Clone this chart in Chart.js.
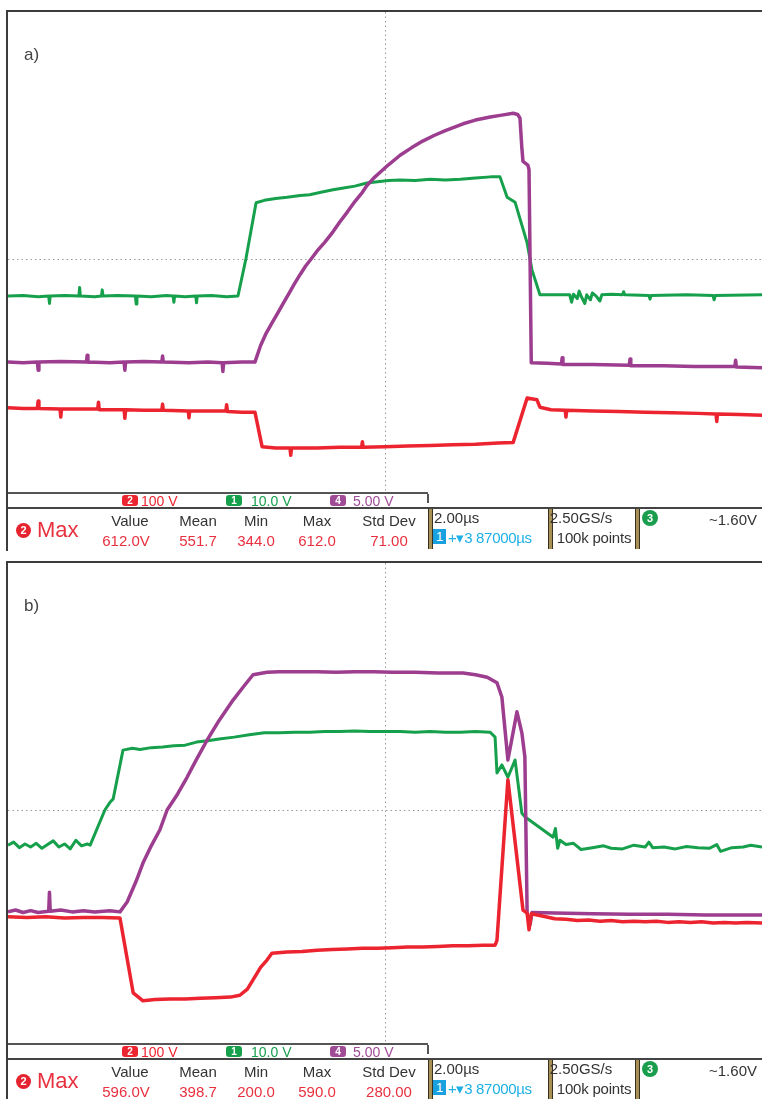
<!DOCTYPE html>
<html>
<head>
<meta charset="utf-8">
<script src="https://cdn.jsdelivr.net/npm/chart.js@4.4.0/dist/chart.umd.min.js"></script>
<style>
body{margin:0;background:#fff;width:762px;height:1099px;overflow:hidden;position:relative;font-family:"Liberation Sans",Arial,sans-serif;color:#333;}
.panel{position:absolute;left:0;width:762px;height:551px;}
.frame{position:absolute;left:6px;top:10px;width:800px;height:537px;border:2px solid #3c3c3c;border-right:none;}
.panel canvas{position:absolute;left:8px;top:12px;}
.tag{position:absolute;left:24px;top:45px;font-size:17px;color:#444;}
.legend{position:absolute;left:8px;top:492px;width:420px;height:15px;background:#fff;border-top:2px solid #555;overflow:hidden;}
.tick{position:absolute;left:427px;top:494px;width:2px;height:9px;background:#555;}
.meas{position:absolute;left:8px;top:507px;width:754px;height:42px;background:#fff;border-top:2px solid #444;}
.c{position:absolute;transform:translate(-50%,-50%);white-space:nowrap;font-size:15px;}
.l{position:absolute;transform:translate(0,-50%);white-space:nowrap;font-size:15px;}
.red{color:#e8303f;}
.sep{position:absolute;top:509px;width:3px;height:40px;background:#a88f55;border-left:1px solid #3a3020;border-right:1px solid #3a3020;}
.dot{position:absolute;border-radius:50%;color:#fff;font-weight:bold;font-size:11px;text-align:center;}
.badge{position:absolute;top:495px;height:11px;border-radius:3px;color:#fff;font-size:10px;line-height:11px;text-align:center;font-weight:bold;}
</style>
</head>
<body>
<script>
// time in µs (2 µs/div), amplitude in screen divisions
var aGreen = [[-10,-0.60],[-9.6,-0.59],[-9.2,-0.61],[-8.92,-0.60],[-8.9,-0.72],[-8.88,-0.60],[-8.5,-0.59],[-8.12,-0.60],[-8.1,-0.46],[-8.08,-0.60],[-7.7,-0.61],[-7.52,-0.60],[-7.5,-0.50],[-7.48,-0.60],[-7.1,-0.59],[-6.62,-0.60],[-6.6,-0.73],[-6.58,-0.60],[-6.2,-0.61],[-5.8,-0.59],[-5.62,-0.60],[-5.6,-0.70],[-5.58,-0.60],[-5.3,-0.61],[-5.02,-0.60],[-5.0,-0.71],[-4.98,-0.60],[-4.6,-0.59],[-4.2,-0.61],[-3.90,-0.60],
  [-3.69,0.00],[-3.42,0.91],[-3.2,0.95],[-2.9,0.98],[-2.6,1.00],[-2.25,1.03],[-2.0,1.04],[-1.7,1.08],[-1.38,1.12],[-1.1,1.15],[-0.8,1.18],[-0.48,1.23],[-0.2,1.25],[0.1,1.27],[0.4,1.28],[0.8,1.27],[1.2,1.29],[1.6,1.28],[2.0,1.29],[2.4,1.31],[2.8,1.33],[3.05,1.33],
  [3.24,1.00],[3.45,0.92],[3.77,0.26],[3.79,0.19],[3.90,-0.18],[4.11,-0.58],[4.9,-0.58],[4.95,-0.70],[5.0,-0.57],[5.1,-0.64],[5.15,-0.52],[5.2,-0.60],[5.3,-0.72],[5.35,-0.58],[5.45,-0.66],[5.5,-0.55],[5.6,-0.60],[5.7,-0.68],[5.75,-0.58],[6.0,-0.57],[6.3,-0.58],[6.33,-0.53],[6.36,-0.58],[7.0,-0.59],[7.03,-0.65],[7.06,-0.59],[8.0,-0.58],[8.7,-0.59],[8.73,-0.66],[8.76,-0.59],[10,-0.58]];
var aPurple = [[-10,-1.67],[-9.6,-1.68],[-9.22,-1.67],[-9.2,-1.80],[-9.18,-1.67],[-8.6,-1.66],[-7.92,-1.67],[-7.9,-1.56],[-7.88,-1.67],[-7.3,-1.68],[-6.92,-1.67],[-6.9,-1.80],[-6.88,-1.67],[-6.4,-1.66],[-5.92,-1.67],[-5.9,-1.57],[-5.88,-1.67],[-5.2,-1.68],[-4.7,-1.67],[-4.32,-1.68],[-4.3,-1.82],[-4.28,-1.68],[-3.8,-1.67],[-3.45,-1.67],
  [-3.3,-1.40],[-3.15,-1.20],[-3.0,-1.04],[-2.85,-0.88],[-2.7,-0.72],[-2.55,-0.56],[-2.4,-0.40],[-2.25,-0.25],[-2.1,-0.11],[-1.96,0.00],[-1.8,0.13],[-1.6,0.27],[-1.38,0.44],[-1.2,0.60],[-1.0,0.76],[-0.8,0.93],[-0.6,1.08],[-0.48,1.19],[-0.3,1.31],[-0.1,1.42],[0.1,1.53],[0.4,1.68],[0.7,1.80],[1.0,1.91],[1.3,2.00],[1.6,2.08],[2.07,2.19],[2.4,2.25],[2.79,2.30],[3.1,2.33],[3.40,2.36],[3.52,2.34],[3.58,2.28],[3.63,1.80],[3.66,1.58],[3.79,1.52],[3.82,1.45],
  [3.88,-1.68],[4.3,-1.69],[4.68,-1.70],[4.7,-1.60],[4.72,-1.71],[5.5,-1.71],[6.48,-1.72],[6.5,-1.62],[6.52,-1.73],[7.4,-1.73],[8.2,-1.74],[9.28,-1.74],[9.3,-1.64],[9.32,-1.75],[10,-1.76]];
var aRed = [[-10,-2.41],[-9.6,-2.42],[-9.22,-2.42],[-9.2,-2.30],[-9.18,-2.42],[-8.62,-2.43],[-8.6,-2.56],[-8.58,-2.43],[-8.1,-2.43],[-7.62,-2.43],[-7.6,-2.32],[-7.58,-2.44],[-6.92,-2.44],[-6.9,-2.58],[-6.88,-2.44],[-6.4,-2.45],[-5.92,-2.45],[-5.9,-2.35],[-5.88,-2.45],[-5.22,-2.46],[-5.2,-2.57],[-5.18,-2.46],[-4.6,-2.46],[-4.22,-2.46],[-4.2,-2.36],[-4.18,-2.47],[-3.8,-2.48],[-3.45,-2.48],
  [-3.26,-3.04],[-2.9,-3.06],[-2.52,-3.06],[-2.5,-3.18],[-2.48,-3.06],[-1.8,-3.06],[-1.2,-3.05],[-0.62,-3.05],[-0.6,-2.96],[-0.58,-3.05],[0.0,-3.04],[0.6,-3.03],[1.2,-3.02],[1.8,-3.01],[2.4,-3.00],[3.0,-2.98],[3.40,-2.97],
  [3.77,-2.25],[4.03,-2.28],[4.11,-2.40],[4.4,-2.44],[4.78,-2.45],[4.8,-2.56],[4.82,-2.45],[5.5,-2.46],[6.2,-2.47],[6.9,-2.48],[7.6,-2.49],[8.3,-2.50],[8.78,-2.51],[8.8,-2.63],[8.82,-2.51],[9.4,-2.52],[10,-2.53]];

var bGreen = [[-10,-0.57],[-9.85,-0.52],[-9.7,-0.61],[-9.55,-0.55],[-9.4,-0.60],[-9.25,-0.54],[-9.1,-0.62],[-8.95,-0.56],[-8.8,-0.50],[-8.65,-0.60],[-8.5,-0.55],[-8.35,-0.63],[-8.2,-0.49],[-8.05,-0.58],[-7.9,-0.55],[-7.82,-0.57],
  [-7.43,0.00],[-7.3,0.12],[-7.21,0.18],[-6.95,0.97],[-6.7,1.00],[-6.5,0.98],[-6.2,1.01],[-5.9,1.02],[-5.6,1.04],[-5.3,1.05],[-5.0,1.10],[-4.7,1.12],[-4.4,1.15],[-4.0,1.18],[-3.6,1.22],[-3.2,1.25],[-2.8,1.25],[-2.4,1.26],[-2.0,1.26],[-1.6,1.27],[-1.2,1.27],[-0.8,1.28],[-0.4,1.27],[0.0,1.27],[0.4,1.27],[0.8,1.26],[1.2,1.27],[1.6,1.26],[2.0,1.26],[2.4,1.27],[2.79,1.26],
  [2.92,1.18],[2.97,0.60],[3.10,0.73],[3.26,0.53],[3.45,0.81],[3.63,-0.05],[3.71,-0.11],[4.46,-0.44],[4.52,-0.30],[4.58,-0.62],[4.64,-0.49],[4.8,-0.56],[5.0,-0.54],[5.2,-0.64],[5.5,-0.61],[5.8,-0.58],[6.0,-0.62],[6.3,-0.63],[6.6,-0.57],[6.9,-0.60],[7.0,-0.52],[7.1,-0.61],[7.4,-0.60],[7.7,-0.63],[8.0,-0.59],[8.3,-0.61],[8.6,-0.62],[8.8,-0.56],[8.9,-0.67],[9.2,-0.61],[9.5,-0.60],[9.7,-0.57],[10,-0.60]];
var bPurple = [[-10,-1.65],[-9.8,-1.62],[-9.6,-1.66],[-9.4,-1.63],[-9.2,-1.66],[-8.92,-1.64],[-8.9,-1.33],[-8.88,-1.64],[-8.6,-1.62],[-8.3,-1.65],[-8.0,-1.63],[-7.7,-1.65],[-7.3,-1.63],[-7.03,-1.65],
  [-6.84,-1.49],[-6.6,-1.15],[-6.42,-0.86],[-6.2,-0.58],[-5.97,-0.32],[-5.78,0.00],[-5.5,0.26],[-5.25,0.53],[-5.0,0.82],[-4.72,1.13],[-4.4,1.45],[-4.03,1.78],[-3.75,2.00],[-3.50,2.19],[-3.13,2.23],[-2.8,2.24],[-2.3,2.24],[-1.8,2.24],[-1.3,2.23],[-0.8,2.24],[-0.3,2.24],[0.2,2.23],[0.8,2.23],[1.4,2.22],[2.07,2.22],[2.4,2.19],[2.71,2.15],[2.97,2.06],[3.10,1.83],[3.26,0.81],[3.50,1.59],[3.63,1.25],[3.71,0.86],
  [3.77,-1.67],[3.85,-1.85],[3.9,-1.66],[4.5,-1.67],[5.5,-1.68],[6.5,-1.69],[7.5,-1.69],[8.5,-1.70],[10,-1.70]];
var bRed = [[-10,-1.73],[-9.5,-1.74],[-9.0,-1.73],[-8.5,-1.75],[-8.0,-1.74],[-7.5,-1.74],[-7.03,-1.75],
  [-6.68,-2.96],[-6.5,-3.05],[-6.42,-3.09],[-6.1,-3.07],[-5.7,-3.06],[-5.3,-3.06],[-4.9,-3.05],[-4.5,-3.04],[-4.1,-3.03],[-3.85,-3.00],[-3.65,-2.90],[-3.50,-2.75],[-3.3,-2.55],[-3.13,-2.43],[-3.00,-2.32],
  [-2.6,-2.30],[-2.2,-2.29],[-1.8,-2.27],[-1.4,-2.26],[-1.0,-2.25],[-0.6,-2.24],[-0.2,-2.24],[0.2,-2.23],[0.6,-2.22],[1.0,-2.22],[1.4,-2.21],[1.8,-2.20],[2.2,-2.20],[2.6,-2.19],[2.92,-2.19],[2.97,-2.11],[3.26,0.49],[3.66,-1.62],[3.77,-1.67],[3.82,-1.94],[3.88,-1.68],
  [4.2,-1.72],[4.5,-1.76],[4.8,-1.77],[5.1,-1.79],[5.4,-1.78],[5.7,-1.80],[6.0,-1.79],[6.3,-1.81],[6.6,-1.80],[6.9,-1.81],[7.2,-1.80],[7.5,-1.82],[7.8,-1.81],[8.1,-1.82],[8.4,-1.81],[8.7,-1.83],[9.0,-1.82],[9.3,-1.83],[9.6,-1.82],[10,-1.83]];

var aStats = ['612.0V', '551.7', '344.0', '612.0', '71.00'];
var bStats = ['596.0V', '398.7', '200.0', '590.0', '280.00'];
var statNames = ['Value', 'Mean', 'Min', 'Max', 'Std Dev'];
var channels = [['2', '100 V'], ['1', '10.0 V'], ['4', '5.00 V']];

var GREEN = '#17a04c', PURPLE = '#9c3d8f', RED = '#ec2430';

function toXY(arr) { return arr.map(function (p) { return { x: p[0], y: p[1] }; }); }
function centerLine(c) { return c.tick && c.tick.value === 0 ? '#9a9a9a' : 'rgba(0,0,0,0)'; }

function panel(top, tag, green, purple, red, stats) {
  var p = document.createElement('div');
  p.className = 'panel';
  p.style.top = top + 'px';
  var html = '<div class="frame"></div><canvas width="754" height="494"></canvas>' +
    '<div class="tag">' + tag + '</div>' +
    '<div class="legend"></div><div class="tick"></div><div class="meas"></div>';
  // channel legend
  var bx = [122, 226, 330], tx = [141, 251, 353], cols = [RED, GREEN, '#a04b96'];
  channels.forEach(function (ch, i) {
    html += '<div class="badge" style="left:' + bx[i] + 'px;width:16px;background:' + cols[i] + '">' + ch[0] + '</div>' +
      '<div class="l" style="left:' + tx[i] + 'px;top:501px;font-size:14px;color:' + cols[i] + '">' + ch[1] + '</div>';
  });
  // measurement strip
  html += '<div class="dot" style="left:16px;top:523px;width:15px;height:15px;line-height:15px;background:#e5242f">2</div>' +
    '<div class="l red" style="left:37px;top:530px;font-size:22px">Max</div>';
  var sx = [130, 198, 256, 317, 389];
  statNames.forEach(function (n, i) {
    html += '<div class="c" style="left:' + sx[i] + 'px;top:520px">' + n + '</div>' +
      '<div class="c red" style="left:' + (i === 0 ? 126 : sx[i]) + 'px;top:540px">' + stats[i] + '</div>';
  });
  html += '<div class="sep" style="left:428px"></div><div class="sep" style="left:548px"></div><div class="sep" style="left:635px"></div>' +
    '<div class="l" style="left:434px;top:517px">2.00µs</div>' +
    '<div style="position:absolute;left:433px;top:529px;width:13px;height:15px;background:#19a0de;color:#fff;font-size:13px;line-height:15px;text-align:center">1</div>' +
    '<div class="l" style="left:448px;top:538px;color:#1cb0e6;font-size:15px;letter-spacing:-0.3px">+▾3 87000µs</div>' +
    '<div class="c" style="left:581px;top:517px">2.50GS/s</div>' +
    '<div class="c" style="left:594px;top:537px;letter-spacing:-0.2px">100k points</div>' +
    '<div class="dot" style="left:642px;top:510px;width:16px;height:16px;line-height:16px;background:#1a9e4e;font-size:11px">3</div>' +
    '<div class="c" style="left:733px;top:519px">~1.60V</div>';
  p.innerHTML = html;
  document.body.appendChild(p);

  var grid = { color: centerLine, drawTicks: false, lineWidth: 1 };
  new Chart(p.querySelector('canvas'), {
    type: 'line',
    data: {
      datasets: [
        { data: toXY(red), borderColor: RED, borderWidth: 3.5 },
        { data: toXY(purple), borderColor: PURPLE, borderWidth: 3.5 },
        { data: toXY(green), borderColor: GREEN, borderWidth: 3 }
      ]
    },
    options: {
      responsive: false,
      animation: false,
      layout: { padding: 0 },
      elements: { point: { radius: 0 }, line: { tension: 0, borderJoinStyle: 'round' } },
      plugins: { legend: { display: false }, tooltip: { enabled: false } },
      scales: {
        x: { type: 'linear', min: -10, max: 10, ticks: { display: false, stepSize: 2 }, grid: grid, border: { display: false, dash: [1.5, 3] } },
        y: { type: 'linear', min: -4, max: 4, ticks: { display: false, stepSize: 1 }, grid: grid, border: { display: false, dash: [1.5, 3] } }
      }
    }
  });
}

panel(0, 'a)', aGreen, aPurple, aRed, aStats);
panel(551, 'b)', bGreen, bPurple, bRed, bStats);
</script>
</body>
</html>
